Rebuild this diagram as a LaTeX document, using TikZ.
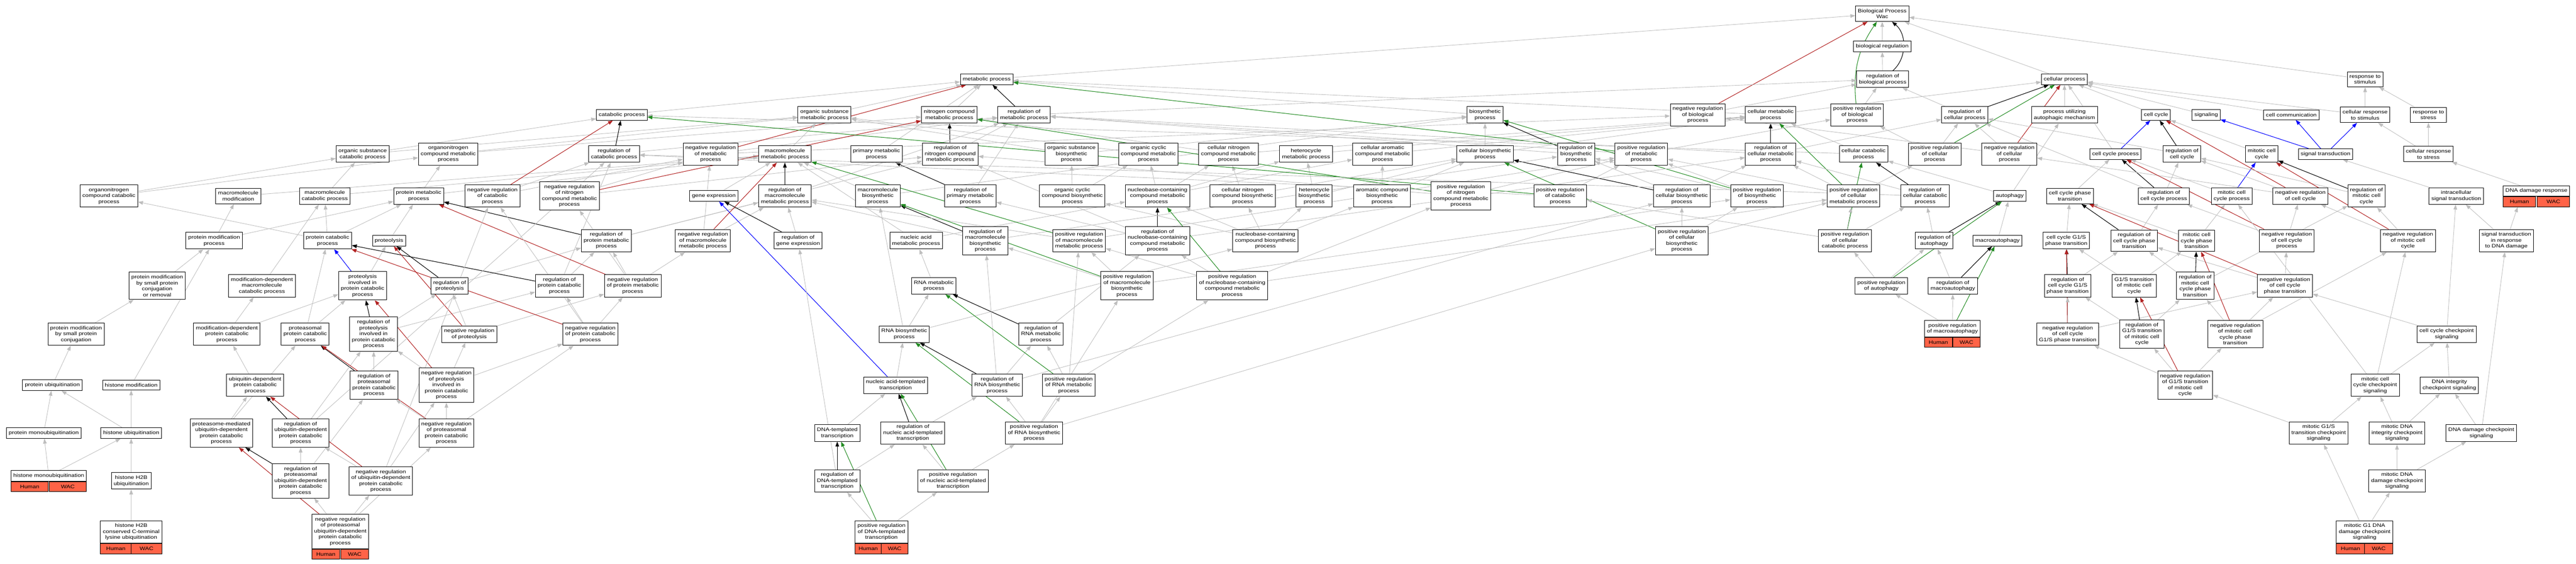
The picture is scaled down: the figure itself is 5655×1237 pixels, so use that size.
\documentclass[tikz,border=0pt]{standalone}
\usepackage{fontspec}
\newfontfamily\gofont{Liberation Sans}[FakeStretch=1.19]
\usetikzlibrary{arrows.meta}
\definecolor{isagray}{RGB}{190,190,190}
\definecolor{negred}{RGB}{178,34,34}
\definecolor{posgreen}{RGB}{34,139,34}
\definecolor{partblue}{RGB}{0,0,255}
\definecolor{tomato}{RGB}{255,99,71}
\pgfdeclarelayer{edges}
\pgfsetlayers{edges,main}

\begin{document}
\begin{tikzpicture}[
x=1pt, y=1pt,
>={Triangle[length=11pt,width=8pt]},
term/.style={draw,line width=1.1pt,fill=white,align=center,inner xsep=5pt,inner ysep=6.5pt,font=\gofont\fontsize{11}{13}\selectfont},
orth/.style={draw,line width=1.1pt,fill=tomato,minimum height=22pt,inner sep=0pt,font=\gofont\fontsize{11}{13}\selectfont},
isa/.style={draw=isagray,line width=1pt,->},
reg/.style={draw=black,line width=1.2pt,->},
negreg/.style={draw=negred,line width=1.2pt,->},
posreg/.style={draw=posgreen,line width=1.2pt,->},
partof/.style={draw=partblue,line width=1.2pt,->}
]
\useasboundingbox (0,0) rectangle (5655,-1237);

%root
\node[term] (bp) at (4132,-30) {Biological Process\\Wac};
\node[term] (breg) at (4132,-102) {biological regulation};

\node[term] (mp) at (2166,-174) {metabolic process};
\node[term] (rbp) at (4133,-174) {regulation of\\biological process};
\node[term] (cp) at (4532,-174) {cellular process};
\node[term] (rs) at (5192,-174) {response to\\stimulus};

\node[term] (cat) at (1365,-252) {catabolic process};
\node[term] (osmp) at (1810,-252) {organic substance\\metabolic process};
\node[term] (ncmp) at (2084,-252) {nitrogen compound\\metabolic process};
\node[term] (rmp) at (2248,-252) {regulation of\\metabolic process};
\node[term] (bsp) at (3260,-252) {biosynthetic\\process};
\node[term] (nrbp) at (3727,-252) {negative regulation\\of biological\\process};
\node[term] (cmp) at (3887,-252) {cellular metabolic\\process};
\node[term] (prbp) at (4077,-252) {positive regulation\\of biological\\process};
\node[term] (rcp) at (4313,-252) {regulation of\\cellular process};
\node[term] (puam) at (4532,-252) {process utilizing\\autophagic mechanism};
\node[term] (cc) at (4733,-252) {cell cycle};
\node[term] (sig) at (4843,-252) {signaling};
\node[term] (ccom) at (5030,-252) {cell communication};
\node[term] (crs) at (5192,-252) {cellular response\\to stimulus};
\node[term] (rst) at (5331,-252) {response to\\stress};

\node[term] (oscat) at (796,-338) {organic substance\\catabolic process};
\node[term] (oncmp) at (984,-338) {organonitrogen\\compound metabolic\\process};
\node[term] (rcat) at (1348,-338) {regulation of\\catabolic process};
\node[term] (nrmp) at (1560,-338) {negative regulation\\of metabolic\\process};
\node[term] (mmp) at (1723,-338) {macromolecule\\metabolic process};
\node[term] (pmp) at (1924,-338) {primary metabolic\\process};
\node[term] (rncmp) at (2086,-338) {regulation of\\nitrogen compound\\metabolic process};
\node[term] (osbp) at (2352,-338) {organic substance\\biosynthetic\\process};
\node[term] (occmp) at (2521,-338) {organic cyclic\\compound metabolic\\process};
\node[term] (cncmp) at (2697,-338) {cellular nitrogen\\compound metabolic\\process};
\node[term] (hmp) at (2867,-338) {heterocycle\\metabolic process};
\node[term] (cacmp) at (3035,-338) {cellular aromatic\\compound metabolic\\process};
\node[term] (cbp) at (3260,-338) {cellular biosynthetic\\process};
\node[term] (rbsp) at (3460,-338) {regulation of\\biosynthetic\\process};
\node[term] (prmp) at (3603,-338) {positive regulation\\of metabolic\\process};
\node[term] (rcmp) at (3887,-338) {regulation of\\cellular metabolic\\process};
\node[term] (ccat) at (4091,-338) {cellular catabolic\\process};
\node[term] (prcp) at (4247,-338) {positive regulation\\of cellular\\process};
\node[term] (nrcp) at (4411,-338) {negative regulation\\of cellular\\process};
\node[term] (ccp) at (4644,-338) {cell cycle process};
\node[term] (rcc) at (4790,-338) {regulation of\\cell cycle};
\node[term] (mcc) at (4965,-338) {mitotic cell\\cycle};
\node[term] (st) at (5105,-338) {signal transduction};
\node[term] (crst) at (5331,-338) {cellular response\\to stress};

\node[term] (oncat) at (239,-430) {organonitrogen\\compound catabolic\\process};
\node[term] (mmod) at (523,-430) {macromolecule\\modification};
\node[term] (mcat) at (713,-430) {macromolecule\\catabolic process};
\node[term] (prmet) at (919,-430) {protein metabolic\\process};
\node[term] (nrcat) at (1081,-430) {negative regulation\\of catabolic\\process};
\node[term] (nrncmp) at (1250,-430) {negative regulation\\of nitrogen\\compound metabolic\\process};
\node[term] (ge) at (1567,-430) {gene expression};
\node[term] (rmmp) at (1723,-430) {regulation of\\macromolecule\\metabolic process};
\node[term] (mbp) at (1927,-430) {macromolecule\\biosynthetic\\process};
\node[term] (rpmp) at (2130,-430) {regulation of\\primary metabolic\\process};
\node[term] (occbp) at (2354,-430) {organic cyclic\\compound biosynthetic\\process};
\node[term] (nbcmp) at (2541,-430) {nucleobase-containing\\compound metabolic\\process};
\node[term] (cncbp) at (2728,-430) {cellular nitrogen\\compound biosynthetic\\process};
\node[term] (hbp) at (2885,-430) {heterocycle\\biosynthetic\\process};
\node[term] (acbp) at (3034,-430) {aromatic compound\\biosynthetic\\process};
\node[term] (prncmp) at (3207,-430) {positive regulation\\of nitrogen\\compound metabolic\\process};
\node[term] (prcat) at (3425,-430) {positive regulation\\of catabolic\\process};
\node[term] (rcbp) at (3692,-430) {regulation of\\cellular biosynthetic\\process};
\node[term] (prbsp) at (3857,-430) {positive regulation\\of biosynthetic\\process};
\node[term] (prcmp) at (4069,-430) {positive regulation\\of cellular\\metabolic process};
\node[term] (rccat) at (4226,-430) {regulation of\\cellular catabolic\\process};
\node[term] (aut) at (4412,-430) {autophagy};
\node[term] (ccpt) at (4544,-430) {cell cycle phase\\transition};
\node[term] (rccp) at (4750,-430) {regulation of\\cell cycle process};
\node[term] (mccp) at (4899,-430) {mitotic cell\\cycle process};
\node[term] (nrcc) at (5050,-430) {negative regulation\\of cell cycle};
\node[term] (rmcc) at (5195,-430) {regulation of\\mitotic cell\\cycle};
\node[term] (ist) at (5392,-430) {intracellular\\signal transduction};
\node[term,minimum width=143pt] (ddr) at (5568,-419) {DNA damage response};
	\node[orth,minimum width=71.5pt,anchor=north west] (ddrh) at (ddr.south west) {Human};
	\node[orth,minimum width=71.5pt,anchor=north east] (ddrw) at (ddr.south east) {WAC};

\node[term] (pmod) at (470,-528) {protein modification\\process};
\node[term] (pcat) at (719,-528) {protein catabolic\\process};
\node[term] (prot) at (854,-528) {proteolysis};
\node[term] (rpm) at (1331,-528) {regulation of\\protein metabolic\\process};
\node[term] (nrmmp) at (1543,-528) {negative regulation\\of macromolecule\\metabolic process};
\node[term] (rge) at (1752,-528) {regulation of\\gene expression};
\node[term] (namp) at (2011,-528) {nucleic acid\\metabolic process};
\node[term] (rmbp) at (2163,-528) {regulation of\\macromolecule\\biosynthetic\\process};
\node[term] (prmmp) at (2369,-528) {positive regulation\\of macromolecule\\metabolic process};
\node[term] (rnbcmp) at (2541,-528) {regulation of\\nucleobase-containing\\compound metabolic\\process};
\node[term] (nbcbp) at (2778,-528) {nucleobase-containing\\compound biosynthetic\\process};
\node[term] (prcbp) at (3692,-528) {positive regulation\\of cellular\\biosynthetic\\process};
\node[term] (prccat) at (4050,-528) {positive regulation\\of cellular\\catabolic process};
\node[term] (raut) at (4246,-528) {regulation of\\autophagy};
\node[term] (maut) at (4385,-528) {macroautophagy};
\node[term] (g1s) at (4536,-528) {cell cycle G1/S\\phase transition};
\node[term] (rccpt) at (4685,-528) {regulation of\\cell cycle phase\\transition};
\node[term] (mccpt) at (4822,-528) {mitotic cell\\cycle phase\\transition};
\node[term] (nrccp) at (5020,-528) {negative regulation\\of cell cycle\\process};
\node[term] (nrmcc) at (5286,-528) {negative regulation\\of mitotic cell\\cycle};
\node[term] (stdd) at (5502,-528) {signal transduction\\in response\\to DNA damage};

\node[term] (pmsp) at (345,-627) {protein modification\\by small protein\\conjugation\\or removal};
\node[term] (mdmcat) at (575,-627) {modification-dependent\\macromolecule\\catabolic process};
\node[term] (pipc) at (796,-627) {proteolysis\\involved in\\protein catabolic\\process};
\node[term] (rprot) at (987,-627) {regulation of\\proteolysis};
\node[term] (rpcat) at (1228,-627) {regulation of\\protein catabolic\\process};
\node[term] (nrpm) at (1389,-627) {negative regulation\\of protein metabolic\\process};
\node[term] (rnamp) at (2050,-627) {RNA metabolic\\process};
\node[term] (prmbp) at (2474,-627) {positive regulation\\of macromolecule\\biosynthetic\\process};
\node[term] (prnbcmp) at (2705,-627) {positive regulation\\of nucleobase-containing\\compound metabolic\\process};
\node[term] (praut) at (4130,-627) {positive regulation\\of autophagy};
\node[term] (rmaut) at (4287,-627) {regulation of\\macroautophagy};
\node[term] (rg1s) at (4539,-627) {regulation of\\cell cycle G1/S\\phase transition};
\node[term] (g1smcc) at (4685,-627) {G1/S transition\\of mitotic cell\\cycle};
\node[term] (rmccpt) at (4819,-627) {regulation of\\mitotic cell\\cycle phase\\transition};
\node[term] (nrccpt) at (5016,-627) {negative regulation\\of cell cycle\\phase transition};

\node[term] (pmspc) at (167,-733) {protein modification\\by small protein\\conjugation};
\node[term] (mdpcat) at (498,-733) {modification-dependent\\protein catabolic\\process};
\node[term] (ppcat) at (670,-733) {proteasomal\\protein catabolic\\process};
\node[term] (rpipc) at (820,-733) {regulation of\\proteolysis\\involved in\\protein catabolic\\process};
\node[term] (nrprot) at (1030,-733) {negative regulation\\of proteolysis};
\node[term] (nrpcat) at (1296,-733) {negative regulation\\of protein catabolic\\process};
\node[term] (rnabp) at (1985,-733) {RNA biosynthetic\\process};
\node[term] (rrnamp) at (2285,-733) {regulation of\\RNA metabolic\\process};
\node[term,minimum width=121pt] (prmaut) at (4286,-721) {positive regulation\\of macroautophagy};
	\node[orth,minimum width=60.5pt,anchor=north west] (prmauth) at (prmaut.south west) {Human};
	\node[orth,minimum width=60.5pt,anchor=north east] (prmautw) at (prmaut.south east) {WAC};
\node[term] (nrg1s) at (4539,-733) {negative regulation\\of cell cycle\\G1/S phase transition};
\node[term] (rg1smcc) at (4702,-733) {regulation of\\G1/S transition\\of mitotic cell\\cycle};
\node[term] (nrmccpt) at (4907,-733) {negative regulation\\of mitotic cell\\cycle phase\\transition};
\node[term] (cccs) at (5371,-733) {cell cycle checkpoint\\signaling};

\node[term] (pub) at (115,-845) {protein ubiquitination};
\node[term] (hmod) at (288,-845) {histone modification};
\node[term] (udpcat) at (560,-845) {ubiquitin-dependent\\protein catabolic\\process};
\node[term] (rppcat) at (821,-845) {regulation of\\proteasomal\\protein catabolic\\process};
\node[term] (nrpipc) at (980,-845) {negative regulation\\of proteolysis\\involved in\\protein catabolic\\process};
\node[term] (natt) at (1966,-845) {nucleic acid-templated\\transcription};
\node[term] (rrnabp) at (2189,-845) {regulation of\\RNA biosynthetic\\process};
\node[term] (prrnamp) at (2346,-845) {positive regulation\\of RNA metabolic\\process};
\node[term] (nrg1smcc) at (4797,-845) {negative regulation\\of G1/S transition\\of mitotic cell\\cycle};
\node[term] (mcccs) at (5214,-845) {mitotic cell\\cycle checkpoint\\signaling};
\node[term] (dics) at (5377,-845) {DNA integrity\\checkpoint signaling};

\node[term] (pmub) at (96,-950) {protein monoubiquitination};
\node[term] (hub) at (288,-950) {histone ubiquitination};
\node[term] (pmudpcat) at (486,-950) {proteasome-mediated\\ubiquitin-dependent\\protein catabolic\\process};
\node[term] (rudpcat) at (660,-950) {regulation of\\ubiquitin-dependent\\protein catabolic\\process};
\node[term] (nrppcat) at (980,-950) {negative regulation\\of proteasomal\\protein catabolic\\process};
\node[term] (dtt) at (1838,-950) {DNA-templated\\transcription};
\node[term] (rnatt) at (2004,-950) {regulation of\\nucleic acid-templated\\transcription};
\node[term] (prrnabp) at (2270,-950) {positive regulation\\of RNA biosynthetic\\process};
\node[term] (mg1scs) at (5090,-950) {mitotic G1/S\\transition checkpoint\\signaling};
\node[term] (mdics) at (5262,-950) {mitotic DNA\\integrity checkpoint\\signaling};
\node[term] (ddcs) at (5447,-950) {DNA damage checkpoint\\signaling};

\node[term,minimum width=164pt] (hmub) at (107,-1044) {histone monoubiquitination};
	\node[orth,minimum width=82pt,anchor=north west] (hmubh) at (hmub.south west) {Human};
	\node[orth,minimum width=82pt,anchor=north east] (hmubw) at (hmub.south east) {WAC};
\node[term] (h2bub) at (288,-1055) {histone H2B\\ubiquitination};
\node[term] (rpudpcat) at (660,-1055) {regulation of\\proteasomal\\ubiquitin-dependent\\protein catabolic\\process};
\node[term] (nrudpcat) at (836,-1055) {negative regulation\\of ubiquitin-dependent\\protein catabolic\\process};
\node[term] (rdtt) at (1838,-1055) {regulation of\\DNA-templated\\transcription};
\node[term] (prnatt) at (2092,-1055) {positive regulation\\of nucleic acid-templated\\transcription};
\node[term] (mddcs) at (5262,-1055) {mitotic DNA\\damage checkpoint\\signaling};

%annotated leaves
\node[term,minimum width=135pt] (h2bct) at (288,-1167) {histone H2B\\conserved C-terminal\\lysine ubiquitination};
	\node[orth,minimum width=67.5pt,anchor=north west] (h2bcth) at (h2bct.south west) {Human};
	\node[orth,minimum width=67.5pt,anchor=north east] (h2bctw) at (h2bct.south east) {WAC};
\node[term,minimum width=123pt] (nrpudpcat) at (747,-1166) {negative regulation\\of proteasomal\\ubiquitin-dependent\\protein catabolic\\process};
	\node[orth,minimum width=61.5pt,anchor=north west] (nrpudpcath) at (nrpudpcat.south west) {Human};
	\node[orth,minimum width=61.5pt,anchor=north east] (nrpudpcatw) at (nrpudpcat.south east) {WAC};
\node[term,minimum width=116pt] (prdtt) at (1935,-1167) {positive regulation\\of DNA-templated\\transcription};
	\node[orth,minimum width=58pt,anchor=north west] (prdtth) at (prdtt.south west) {Human};
	\node[orth,minimum width=58pt,anchor=north east] (prdttw) at (prdtt.south east) {WAC};
\node[term,minimum width=124pt] (mg1dd) at (5191,-1167) {mitotic G1 DNA\\damage checkpoint\\signaling};
	\node[orth,minimum width=62pt,anchor=north west] (mg1ddh) at (mg1dd.south west) {Human};
	\node[orth,minimum width=62pt,anchor=north east] (mg1ddw) at (mg1dd.south east) {WAC};

\begin{pgfonlayer}{edges}
%root
\path[isa] (breg) -- (bp);
\path[isa] (rbp) -- (breg);
\path[reg] (rbp) to[bend right=50] (bp);
\path[isa] (mp) -- (bp);
\path[isa] (cp) -- (bp);
\path[isa] (rs) -- (bp);
\path[posreg] (prbp) to[bend left=20] (bp);
	\path[isa] (prbp) -- (rbp);
\path[negreg] (nrbp) -- (bp);
	\path[isa] (nrbp) -- (rbp);

\path[isa] (cat) -- (mp);
\path[isa] (osmp) -- (mp);
\path[isa] (ncmp) -- (mp);
\path[reg] (rmp) -- (mp);
	\path[isa] (rmp) -- (rbp);
\path[isa] (bsp) -- (mp);
\path[isa] (cmp) -- (mp);
	\path[isa] (cmp) -- (cp);
\path[reg] (rcp) -- (cp);
	\path[isa] (rcp) -- (rbp);
\path[isa] (puam) -- (cp);
\path[isa] (cc) -- (cp);
\path[isa] (sig) -- (cp);
\path[isa] (ccom) -- (cp);
\path[isa] (crs) -- (cp);
	\path[isa] (crs) -- (rs);
\path[isa] (rst) -- (rs);

\path[isa] (oscat) -- (cat);
	\path[isa] (oscat) -- (osmp);
\path[isa] (oncmp) -- (osmp);
	\path[isa] (oncmp) -- (ncmp);
\path[reg] (rcat) -- (cat);
	\path[isa] (rcat) -- (rmp);
\path[negreg] (nrmp) -- (mp);
	\path[isa] (nrmp) -- (rmp);
	\path[isa] (nrmp) -- (nrbp);
\path[isa] (mmp) -- (osmp);
\path[isa] (pmp) -- (mp);
\path[reg] (rncmp) -- (ncmp);
	\path[isa] (rncmp) -- (rmp);
\path[isa] (osbp) -- (bsp);
	\path[isa] (osbp) -- (osmp);
\path[isa] (occmp) -- (osmp);
\path[isa] (cncmp) -- (ncmp);
	\path[isa] (cncmp) -- (cmp);
\path[isa] (hmp) -- (cmp);
\path[isa] (cacmp) -- (cmp);
\path[isa] (cbp) -- (bsp);
	\path[isa] (cbp) -- (cmp);
\path[reg] (rbsp) -- (bsp);
	\path[isa] (rbsp) -- (rmp);
\path[posreg] (prmp) -- (mp);
	\path[isa] (prmp) -- (rmp);
	\path[isa] (prmp) -- (prbp);
\path[reg] (rcmp) -- (cmp);
	\path[isa] (rcmp) -- (rmp);
	\path[isa] (rcmp) -- (rcp);
\path[isa] (ccat) -- (cat);
	\path[isa] (ccat) -- (cmp);
\path[posreg] (prcp) -- (cp);
	\path[isa] (prcp) -- (rcp);
	\path[isa] (prcp) -- (prbp);
\path[negreg] (nrcp) -- (cp);
	\path[isa] (nrcp) -- (rcp);
	\path[isa] (nrcp) -- (nrbp);
\path[partof] (ccp) -- (cc);
	\path[isa] (ccp) -- (cp);
\path[reg] (rcc) -- (cc);
	\path[isa] (rcc) -- (rcp);
\path[isa] (mcc) -- (cc);
\path[partof] (st) -- (sig);
	\path[partof] (st) -- (ccom);
	\path[partof] (st) -- (crs);
\path[isa] (crst) -- (rst);
	\path[isa] (crst) -- (crs);

\path[isa] (oncat) -- (oscat);
	\path[isa] (oncat) -- (oncmp);
\path[isa] (mmod) -- (mmp);
\path[isa] (mcat) -- (oscat);
	\path[isa] (mcat) -- (mmp);
\path[isa] (prmet) -- (oncmp);
	\path[isa] (prmet) -- (mmp);
\path[negreg] (nrcat) -- (cat);
	\path[isa] (nrcat) -- (rcat);
	\path[isa] (nrcat) -- (nrmp);
\path[negreg] (nrncmp) -- (ncmp);
	\path[isa] (nrncmp) -- (rncmp);
	\path[isa] (nrncmp) -- (nrmp);
\path[isa] (ge) -- (mmp);
\path[reg] (rmmp) -- (mmp);
	\path[isa] (rmmp) -- (rmp);
\path[isa] (mbp) -- (mmp);
	\path[isa] (mbp) -- (bsp);
\path[reg] (rpmp) -- (pmp);
	\path[isa] (rpmp) -- (rmp);
\path[isa] (occbp) -- (occmp);
	\path[isa] (occbp) -- (osbp);
\path[isa] (nbcmp) -- (occmp);
	\path[isa] (nbcmp) -- (cncmp);
	\path[isa] (nbcmp) -- (hmp);
	\path[isa] (nbcmp) -- (cacmp);
\path[isa] (cncbp) -- (cncmp);
	\path[isa] (cncbp) -- (cbp);
\path[isa] (hbp) -- (hmp);
	\path[isa] (hbp) -- (cbp);
\path[isa] (acbp) -- (cacmp);
	\path[isa] (acbp) -- (cbp);
\path[posreg] (prncmp) -- (ncmp);
	\path[isa] (prncmp) -- (rncmp);
	\path[isa] (prncmp) -- (prmp);
\path[posreg] (prcat) -- (cat);
	\path[isa] (prcat) -- (rcat);
	\path[isa] (prcat) -- (prmp);
\path[reg] (rcbp) -- (cbp);
	\path[isa] (rcbp) -- (rbsp);
	\path[isa] (rcbp) -- (rcmp);
\path[posreg] (prbsp) -- (bsp);
	\path[isa] (prbsp) -- (rbsp);
	\path[isa] (prbsp) -- (prmp);
\path[posreg] (prcmp) -- (cmp);
	\path[isa] (prcmp) -- (rcmp);
	\path[isa] (prcmp) -- (prmp);
	\path[isa] (prcmp) -- (prcp);
\path[reg] (rccat) -- (ccat);
	\path[isa] (rccat) -- (rcat);
	\path[isa] (rccat) -- (rcmp);
\path[isa] (aut) -- (puam);
	\path[isa] (aut) -- (ccat);
\path[isa] (ccpt) -- (ccp);
\path[reg] (rccp) -- (ccp);
	\path[isa] (rccp) -- (rcc);
	\path[isa] (rccp) -- (rcp);
\path[partof] (mccp) -- (mcc);
	\path[isa] (mccp) -- (ccp);
\path[negreg] (nrcc) -- (cc);
	\path[isa] (nrcc) -- (rcc);
	\path[isa] (nrcc) -- (nrcp);
\path[reg] (rmcc) -- (mcc);
	\path[isa] (rmcc) -- (rcc);
\path[isa] (ist) -- (st);
\path[isa] (ddr) -- (crst);

\path[isa] (pmod) -- (prmet);
	\path[isa] (pmod) -- (mmod);
\path[isa] (pcat) -- (mcat);
	\path[isa] (pcat) -- (prmet);
	\path[isa] (pcat) -- (oncat);
\path[isa] (prot) -- (prmet);
\path[reg] (rpm) -- (prmet);
	\path[isa] (rpm) -- (rmmp);
	\path[isa] (rpm) -- (rncmp);
\path[negreg] (nrmmp) -- (mmp);
	\path[isa] (nrmmp) -- (rmmp);
	\path[isa] (nrmmp) -- (nrmp);
\path[reg] (rge) -- (ge);
	\path[isa] (rge) -- (rmmp);
\path[isa] (namp) -- (nbcmp);
	\path[isa] (namp) -- (mmp);
\path[reg] (rmbp) -- (mbp);
	\path[isa] (rmbp) -- (rmmp);
	\path[isa] (rmbp) -- (rbsp);
\path[posreg] (prmmp) -- (mmp);
	\path[isa] (prmmp) -- (rmmp);
	\path[isa] (prmmp) -- (prmp);
\path[reg] (rnbcmp) -- (nbcmp);
	\path[isa] (rnbcmp) -- (rcmp);
	\path[isa] (rnbcmp) -- (rpmp);
	\path[isa] (rnbcmp) -- (rncmp);
\path[isa] (nbcbp) -- (nbcmp);
	\path[isa] (nbcbp) -- (occbp);
	\path[isa] (nbcbp) -- (cncbp);
	\path[isa] (nbcbp) -- (hbp);
	\path[isa] (nbcbp) -- (acbp);
\path[posreg] (prcbp) -- (cbp);
	\path[isa] (prcbp) -- (rcbp);
	\path[isa] (prcbp) -- (prbsp);
	\path[isa] (prcbp) -- (prcmp);
\path[posreg] (prccat) -- (ccat);
	\path[isa] (prccat) -- (rccat);
	\path[isa] (prccat) -- (prcat);
	\path[isa] (prccat) -- (prcmp);
\path[reg] (raut) -- (aut);
	\path[isa] (raut) -- (rccat);
\path[isa] (maut) -- (aut);
\path[isa] (g1s) -- (ccpt);
\path[reg] (rccpt) -- (ccpt);
	\path[isa] (rccpt) -- (rccp);
\path[isa] (mccpt) -- (ccpt);
	\path[isa] (mccpt) -- (mccp);
\path[negreg] (nrccp) -- (ccp);
	\path[isa] (nrccp) -- (rccp);
	\path[isa] (nrccp) -- (nrcc);
\path[negreg] (nrmcc) -- (mcc);
	\path[isa] (nrmcc) -- (rmcc);
	\path[isa] (nrmcc) -- (nrcc);
\path[isa] (stdd) -- (ist);
	\path[isa] (stdd) -- (ddrh);

\path[isa] (pmsp) -- (pmod);
\path[isa] (mdmcat) -- (mcat);
\path[partof] (pipc) -- (pcat);
	\path[isa] (pipc) -- (prot);
\path[reg] (rprot) -- (prot);
	\path[isa] (rprot) -- (rpm);
\path[reg] (rpcat) -- (pcat);
	\path[isa] (rpcat) -- (rpm);
	\path[isa] (rpcat) -- (rcat);
\path[negreg] (nrpm) -- (prmet);
	\path[isa] (nrpm) -- (rpm);
	\path[isa] (nrpm) -- (nrmmp);
	\path[isa] (nrpm) -- (nrncmp);
\path[isa] (rnamp) -- (namp);
\path[posreg] (prmbp) -- (mbp);
	\path[isa] (prmbp) -- (rmbp);
	\path[isa] (prmbp) -- (prmmp);
	\path[isa] (prmbp) -- (prbsp);
\path[posreg] (prnbcmp) -- (nbcmp);
	\path[isa] (prnbcmp) -- (rnbcmp);
	\path[isa] (prnbcmp) -- (prmmp);
	\path[isa] (prnbcmp) -- (prcmp);
	\path[isa] (prnbcmp) -- (prncmp);
\path[posreg] (praut) -- (aut);
	\path[isa] (praut) -- (raut);
	\path[isa] (praut) -- (prccat);
\path[reg] (rmaut) -- (maut);
	\path[isa] (rmaut) -- (raut);
\path[reg] (rg1s) -- (g1s);
	\path[isa] (rg1s) -- (rccpt);
\path[isa] (g1smcc) -- (g1s);
	\path[isa] (g1smcc) -- (mccpt);
\path[reg] (rmccpt) -- (mccpt);
	\path[isa] (rmccpt) -- (rccpt);
	\path[isa] (rmccpt) -- (rmcc);
\path[negreg] (nrccpt) -- (ccpt);
	\path[isa] (nrccpt) -- (rccpt);
	\path[isa] (nrccpt) -- (nrccp);

\path[isa] (pmspc) -- (pmsp);
\path[isa] (mdpcat) -- (mdmcat);
	\path[isa] (mdpcat) -- (pipc);
\path[isa] (ppcat) -- (pipc);
	\path[isa] (ppcat) -- (pcat);
\path[reg] (rpipc) -- (pipc);
	\path[isa] (rpipc) -- (rprot);
	\path[isa] (rpipc) -- (rpcat);
\path[negreg] (nrprot) -- (prot);
	\path[isa] (nrprot) -- (rprot);
	\path[isa] (nrprot) -- (nrpm);
\path[negreg] (nrpcat) -- (pcat);
	\path[isa] (nrpcat) -- (rpcat);
	\path[isa] (nrpcat) -- (nrpm);
	\path[isa] (nrpcat) -- (nrcat);
\path[isa] (rnabp) -- (rnamp);
	\path[isa] (rnabp) -- (mbp);
	\path[isa] (rnabp) -- (nbcbp);
\path[reg] (rrnamp) -- (rnamp);
	\path[isa] (rrnamp) -- (rnbcmp);
\path[posreg] (prmaut) -- (maut);
	\path[isa] (prmaut) -- (rmaut);
	\path[isa] (prmaut) -- (praut);
\path[negreg] (nrg1s) -- (g1s);
	\path[isa] (nrg1s) -- (rg1s);
	\path[isa] (nrg1s) -- (nrccpt);
\path[reg] (rg1smcc) -- (g1smcc);
	\path[isa] (rg1smcc) -- (rg1s);
	\path[isa] (rg1smcc) -- (rmccpt);
\path[negreg] (nrmccpt) -- (mccpt);
	\path[isa] (nrmccpt) -- (rmccpt);
	\path[isa] (nrmccpt) -- (nrccpt);
	\path[isa] (nrmccpt) -- (nrmcc);
\path[isa] (cccs) -- (nrccpt);
	\path[isa] (cccs) -- (ist);

\path[isa] (pub) -- (pmspc);
\path[isa] (hmod) -- (pmod);
\path[isa] (udpcat) -- (mdpcat);
\path[reg] (rppcat) -- (ppcat);
	\path[isa] (rppcat) -- (rpipc);
\path[negreg] (nrpipc) -- (pipc);
	\path[isa] (nrpipc) -- (rpipc);
	\path[isa] (nrpipc) -- (nrprot);
	\path[isa] (nrpipc) -- (nrpcat);
\path[isa] (natt) -- (rnabp);
	\path[partof] (natt) -- (ge);
\path[reg] (rrnabp) -- (rnabp);
	\path[isa] (rrnabp) -- (rrnamp);
	\path[isa] (rrnabp) -- (rmbp);
	\path[isa] (rrnabp) -- (rcbp);
\path[posreg] (prrnamp) -- (rnamp);
	\path[isa] (prrnamp) -- (rrnamp);
	\path[isa] (prrnamp) -- (prnbcmp);
	\path[isa] (prrnamp) -- (prmmp);
\path[negreg] (nrg1smcc) -- (g1smcc);
	\path[isa] (nrg1smcc) -- (rg1smcc);
	\path[isa] (nrg1smcc) -- (nrmccpt);
	\path[isa] (nrg1smcc) -- (nrg1s);
\path[isa] (mcccs) -- (cccs);
	\path[isa] (mcccs) -- (nrmcc);
	\path[isa] (mcccs) -- (mccp);
\path[isa] (dics) -- (cccs);

\path[isa] (pmub) -- (pub);
\path[isa] (hub) -- (pub);
	\path[isa] (hub) -- (hmod);
\path[isa] (pmudpcat) -- (udpcat);
	\path[isa] (pmudpcat) -- (ppcat);
\path[reg] (rudpcat) -- (udpcat);
	\path[isa] (rudpcat) -- (rpipc);
	\path[isa] (rudpcat) -- (rcat);
\path[negreg] (nrppcat) -- (ppcat);
	\path[isa] (nrppcat) -- (rppcat);
	\path[isa] (nrppcat) -- (nrpipc);
	\path[isa] (nrppcat) -- (nrpcat);
\path[isa] (dtt) -- (natt);
\path[reg] (rnatt) -- (natt);
	\path[isa] (rnatt) -- (rrnabp);
\path[posreg] (prrnabp) -- (rnabp);
	\path[isa] (prrnabp) -- (rrnabp);
	\path[isa] (prrnabp) -- (prrnamp);
	\path[isa] (prrnabp) -- (prmbp);
	\path[isa] (prrnabp) -- (prcbp);
\path[isa] (mg1scs) -- (mcccs);
	\path[isa] (mg1scs) -- (nrg1smcc);
\path[isa] (mdics) -- (mcccs);
	\path[isa] (mdics) -- (dics);
\path[isa] (ddcs) -- (dics);
	\path[isa] (ddcs) -- (stdd);

\path[isa] (hmub) -- (pmub);
	\path[isa] (hmub) -- (hub);
\path[isa] (h2bub) -- (hub);
\path[reg] (rpudpcat) -- (pmudpcat);
	\path[isa] (rpudpcat) -- (rudpcat);
	\path[isa] (rpudpcat) -- (rppcat);
\path[negreg] (nrudpcat) -- (udpcat);
	\path[isa] (nrudpcat) -- (rudpcat);
	\path[isa] (nrudpcat) -- (nrpipc);
	\path[isa] (nrudpcat) -- (nrcat);
\path[reg] (rdtt) -- (dtt);
	\path[isa] (rdtt) -- (rnatt);
	\path[isa] (rdtt) -- (rge);
\path[posreg] (prnatt) -- (natt);
	\path[isa] (prnatt) -- (rnatt);
	\path[isa] (prnatt) -- (prrnabp);
\path[isa] (mddcs) -- (mdics);
	\path[isa] (mddcs) -- (ddcs);

%annotated leaves
\path[isa] (h2bct) -- (h2bub);
\path[negreg] (nrpudpcat) -- (pmudpcat);
	\path[isa] (nrpudpcat) -- (rpudpcat);
	\path[isa] (nrpudpcat) -- (nrudpcat);
	\path[isa] (nrpudpcat) -- (nrppcat);
\path[posreg] (prdtt) -- (dtt);
	\path[isa] (prdtt) -- (rdtt);
	\path[isa] (prdtt) -- (prnatt);
\path[isa] (mg1dd) -- (mg1scs);
	\path[isa] (mg1dd) -- (mddcs);
\end{pgfonlayer}

\end{tikzpicture}
\end{document}
